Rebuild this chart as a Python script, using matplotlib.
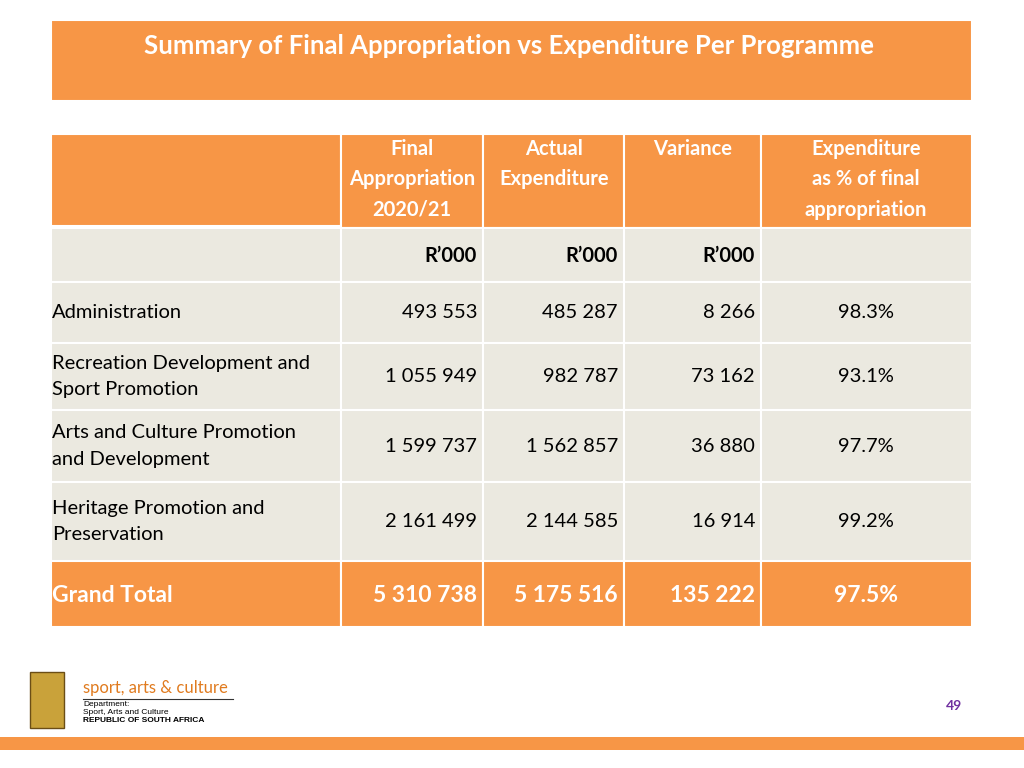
import matplotlib
matplotlib.use("Agg")
import matplotlib.pyplot as plt
from matplotlib.patches import Rectangle

plt.rcParams['font.family'] = ['Lato', 'DejaVu Sans']

title = "Summary of Final Appropriation vs Expenditure Per Programme"
headers = ["Final\nAppropriation\n2020/21", "Actual\nExpenditure\n ", "Variance\n\n ", "Expenditure\nas % of final\nappropriation"]
units = ["R\u2019000", "R\u2019000", "R\u2019000", ""]
programmes = ["Administration", "Recreation Development and\nSport Promotion",
              "Arts and Culture Promotion\nand Development", "Heritage Promotion and\nPreservation"]
final_approp = ["493 553", "1 055 949", "1 599 737", "2 161 499"]
actual_exp = ["485 287", "982 787", "1 562 857", "2 144 585"]
variance = ["8 266", "73 162", "36 880", "16 914"]
pct = ["98.3%", "93.1%", "97.7%", "99.2%"]
total = ["Grand Total", "5 310 738", "5 175 516", "135 222", "97.5%"]

ORANGE = "#F79646"
LIGHT = "#EBE9E0"
FS = 14.5

fig = plt.figure(figsize=(10.24, 7.68), dpi=100)
ax = fig.add_axes([0, 0, 1, 1])
ax.set_xlim(0, 1024); ax.set_ylim(768, 0); ax.axis('off')

def rect(x0, y0, x1, y1, c):
    ax.add_patch(Rectangle((x0, y0), x1 - x0, y1 - y0, facecolor=c, edgecolor='white', lw=1.5))

rect(51, 20, 972, 101, ORANGE)
ax.text(509, 46, title, color='white', fontsize=18.5, fontweight='bold', ha='center', va='center')

cols = [51, 341, 483, 624, 761, 972]
rows = [134, 228, 282, 343, 410, 482, 561, 627]

rect(51, 134, 341, 226, ORANGE)
for i in range(4):
    rect(cols[i + 1], 134, cols[i + 2], 228, ORANGE)
hx = [412, 554, 693, 866]
for i, h in enumerate(headers):
    ax.text(hx[i], 139, h, color='white', fontsize=FS, fontweight='bold', ha='center', va='top', linespacing=1.65)
for i in range(5):
    rect(cols[i], 228, cols[i + 1], 282, LIGHT)
for i, u in enumerate(units):
    ax.text(cols[i + 2] - 6, 256, u, fontsize=FS, fontweight='bold', ha='right', va='center')
for r in range(4):
    y0, y1 = rows[r + 2], rows[r + 3]
    for i in range(5):
        rect(cols[i], y0, cols[i + 1], y1, LIGHT)
    yc = (y0 + y1) / 2
    ax.text(52, yc, programmes[r], fontsize=FS, ha='left', va='center', linespacing=1.65)
    for i, v in enumerate([final_approp[r], actual_exp[r], variance[r]]):
        ax.text(cols[i + 2] - 6, yc, v, fontsize=FS, ha='right', va='center')
    ax.text(866, yc, pct[r], fontsize=FS, ha='center', va='center')
y0, y1 = rows[6], rows[7]
for i in range(5):
    rect(cols[i], y0, cols[i + 1], y1, ORANGE)
yc = (y0 + y1) / 2 + 1
ax.text(52, yc, total[0], color='white', fontsize=16.5, fontweight='bold', ha='left', va='center')
for i in range(3):
    ax.text(cols[i + 2] - 6, yc, total[i + 1], color='white', fontsize=16.5, fontweight='bold', ha='right', va='center')
ax.text(866, yc, total[4], color='white', fontsize=16.5, fontweight='bold', ha='center', va='center')

ax.add_patch(Rectangle((0, 737), 1024, 13, facecolor=ORANGE, edgecolor='none'))
ax.text(954, 706, "49", color='#7030A0', fontsize=10, fontweight='bold', ha='center', va='center')
ax.text(83, 688, "sport, arts & culture", color='#E07B1F', fontsize=12, ha='left', va='center')
ax.plot([83, 233], [699, 699], color='#333333', lw=0.8)
ax.text(83, 704, "Department:", fontsize=6, ha='left', va='center', family='Liberation Sans')
ax.text(83, 712, "Sport, Arts and Culture", fontsize=6, ha='left', va='center', family='Liberation Sans')
ax.text(83, 721, "REPUBLIC OF SOUTH AFRICA", fontsize=6, fontweight='bold', ha='left', va='center', family='Liberation Sans')
ax.add_patch(Rectangle((30, 672), 34, 56, facecolor='#C9A23A', edgecolor='#6B4E16', lw=1))

fig.savefig("out.png", dpi=100)
